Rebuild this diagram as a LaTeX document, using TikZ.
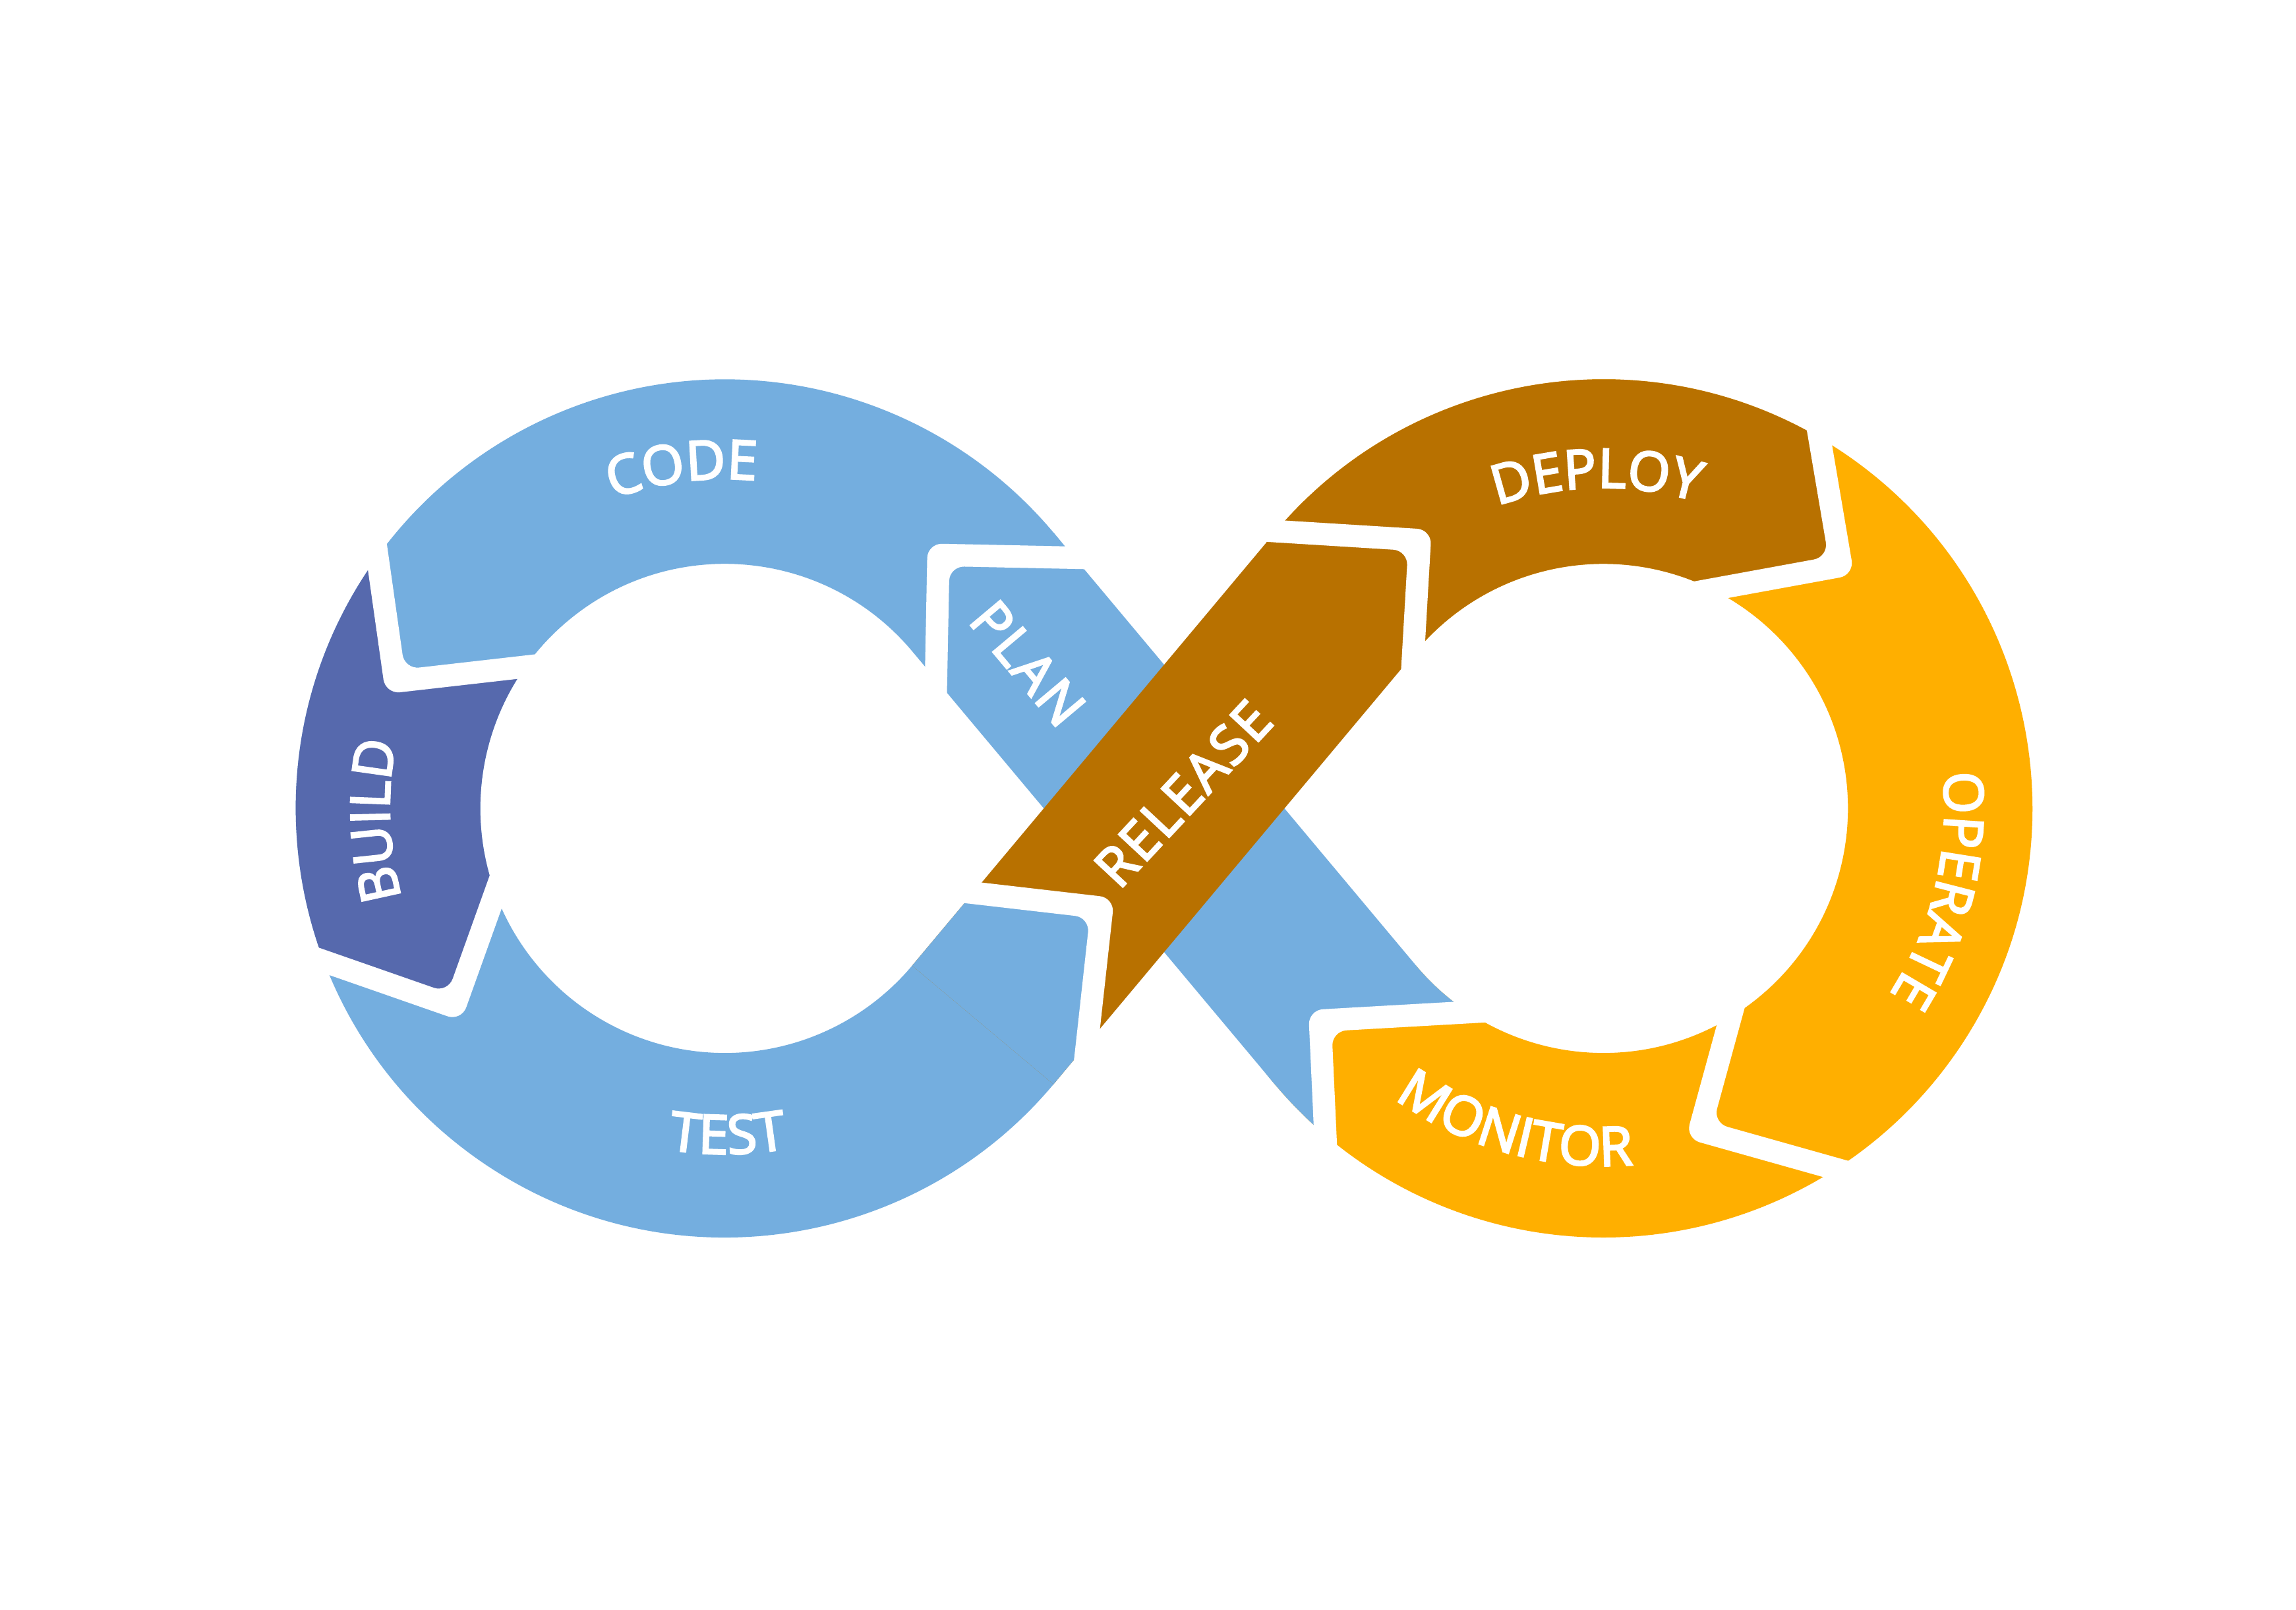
\documentclass[tikz,border=0pt]{standalone}
\usepackage{fontspec}
\newfontfamily\lfont{Open Sans}[FakeBold=3.5,LetterSpace=4]
\usetikzlibrary{calc,decorations.text}
\definecolor{cblue}{HTML}{74AEDF}
\definecolor{cbuild}{HTML}{5669AD}
\definecolor{cbrown}{HTML}{B87100}
\definecolor{corange}{HTML}{FFAF00}
\newcommand\lblf{\lfont\fontsize{37}{41}\selectfont}
\newcommand\gw{7.65}
\newcommand\leftringpath{($(C1)+(35:293)$) arc[start angle=35,end angle=325,radius=293] -- ($(C1)+(320:167)$) arc[start angle=320,end angle=40,radius=167] -- cycle}
\newcommand\rightringpath{($(C2)+(-145:293)$) arc[start angle=-145,end angle=145,radius=293] -- ($(C2)+(140:167)$) arc[start angle=140,end angle=-140,radius=167] -- cycle}
\newcommand\bandonepath{(719.45,363.66) -- (967.07,659.35) -- (870.55,740.34) -- (622.93,444.65) -- cycle}
\newcommand\bandtwopath{(719.45,740.34) -- (967.07,444.65) -- (870.55,363.66) -- (622.93,659.35) -- cycle}
% white L-shaped gap: #1 outer end, #2 apex, #3 inner end
\newcommand\gapjoint[3]{%
\fill[white,rounded corners=10pt] let \p1=(#1),\p2=(#2),\p3=(#3),
 \n1={veclen(\x1-\x2,\y1-\y2)},\n2={veclen(\x3-\x2,\y3-\y2)} in
 ({\x1+\gw*(\x3-\x2)/\n2},{\y1+\gw*(\y3-\y2)/\n2})
 -- ({\x2+\gw*((\x1-\x2)/\n1+(\x3-\x2)/\n2)},{\y2+\gw*((\y1-\y2)/\n1+(\y3-\y2)/\n2)})
 -- ({\x3+\gw*(\x1-\x2)/\n1},{\y3+\gw*(\y1-\y2)/\n1})
 -- ({\x3-\gw*(\x1-\x2)/\n1},{\y3-\gw*(\y1-\y2)/\n1})
 -- ({\x2-\gw*((\x1-\x2)/\n1+(\x3-\x2)/\n2)},{\y2-\gw*((\y1-\y2)/\n1+(\y3-\y2)/\n2)})
 -- ({\x1-\gw*(\x3-\x2)/\n2},{\y1-\gw*(\y3-\y2)/\n2}) -- cycle;}
\tikzset{
  lbl/.style={text=white,font=\lblf,inner sep=0pt},
  arclbl/.style={decorate,decoration={text along path,text={|\lblf|#1},text align=center,text color=white}}
}
\begin{document}
\begin{tikzpicture}[x=1pt,y=-1pt]
\useasboundingbox (0,0) rectangle (1568,1099);
\fill[white] (0,0) rectangle (1568,1099);
\coordinate (C1) at (495,552);
\coordinate (C2) at (1095,552);
% rings
\fill[cblue] \leftringpath;
\fill[corange] \rightringpath;
% BUILD
\begin{scope}
\clip \leftringpath;
\fill[cbuild] (234.2,214.6) -- (269.8,465.4) -- (470.2,442.6) -- (495,552) -- (380.2,492.5) -- (310.4,687.5) -- (89.6,610.5) -- (40,610) -- (40,214.6) -- cycle;
\end{scope}
% DEPLOY (and tip of RELEASE), end of PLAN
\begin{scope}
\clip \rightringpath;
\fill[cbrown] (1095,552) -- (701,482) -- (701,150) -- (1217.8,153.6) -- (1257.4,386.4) -- (1042.6,423.8) -- cycle;
\fill[cblue] (1095,552) -- (1138.5,683.5) -- (901.5,696.9) -- (910,883.1) -- (700,883) -- (700,552) -- cycle;
\end{scope}
% PLAN band
\fill[cblue] \bandonepath;
% RELEASE band
\fill[cbrown] \bandtwopath;
\begin{scope}
\clip \bandtwopath;
\fill[cblue] (507.4,591.4) -- (752.6,619.8) -- (721.8,900.2) -- (500,900) -- cycle;
\end{scope}
% gaps
\gapjoint{793.6,382.1}{640.9,378.9}{637.7,541.4}
\gapjoint{244.9,289.8}{269.8,465.4}{410.1,449.4}
\gapjoint{155.8,633.6}{310.4,687.5}{359.3,551}
\gapjoint{731,815.8}{752.6,619.8}{581,600}
\gapjoint{816.2,359.3}{969.6,368.8}{961.4,510.5}
\gapjoint{1229.7,223.4}{1257.4,386.4}{1107,413.9}
\gapjoint{1313.8,815.1}{1160.6,772}{1199.7,629.2}
\gapjoint{907.5,827.2}{901.5,696.9}{1067.4,687.5}
% labels
\path[arclbl=CODE] ($(C1)+(-142.2:225)$) arc[start angle=-142.2,end angle=-52.2,radius=225];
\path[arclbl=BUILD] ($(C1)+(133:229)$) arc[start angle=133,end angle=223,radius=229];
\path[arclbl=TEST] ($(C1)+(134.5:236)$) arc[start angle=134.5,end angle=44.5,radius=236];
\path[arclbl=DEPLOY] ($(C2)+(-136.2:219)$) arc[start angle=-136.2,end angle=-46.2,radius=219];
\path[arclbl=OPERATE] ($(C2)+(-31.5:233)$) arc[start angle=-31.5,end angle=58.5,radius=233];
\path[arclbl=MONITOR] ($(C2)+(150.5:244)$) arc[start angle=150.5,end angle=60.5,radius=244];
\node[lbl,rotate=-50] (plan) at (702,453) {PLAN};
\node[lbl,rotate=47] (release) at (808,542) {RELEASE};
\end{tikzpicture}
\end{document}
